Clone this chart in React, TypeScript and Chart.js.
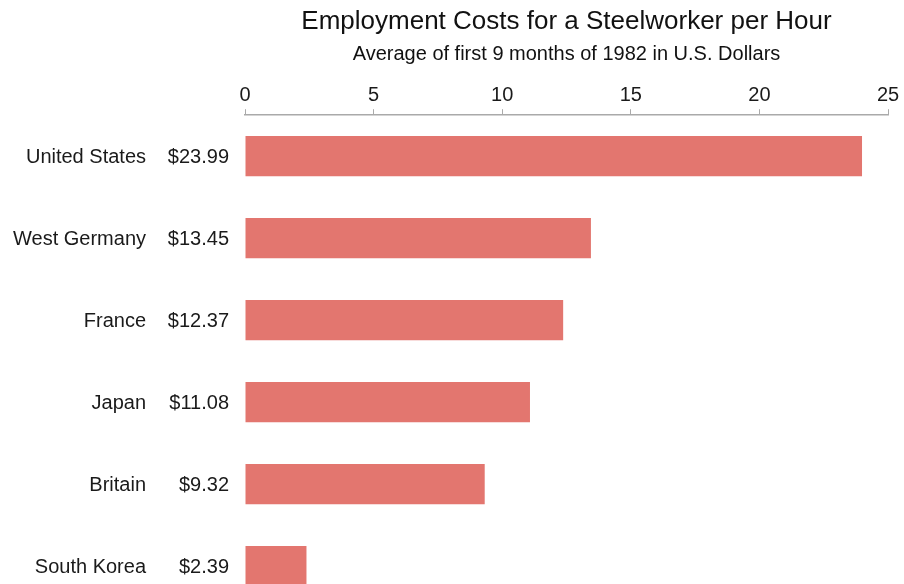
import React, { useEffect, useRef } from "react";
import { Chart, registerables } from "chart.js";

Chart.register(...registerables);

const countries = ["United States", "West Germany", "France", "Japan", "Britain", "South Korea"];
const costs = [23.99, 13.45, 12.37, 11.08, 9.32, 2.39];
const valueLabels = ["$23.99", "$13.45", "$12.37", "$11.08", "$9.32", "$2.39"];
const titleText = "Employment Costs for a Steelworker per Hour";
const subtitleText = "Average of first 9 months of 1982 in U.S. Dollars";

const FONT = "'Liberation Sans', Arial, Helvetica, sans-serif";

const labelPlugin = {
  id: "leftLabels",
  afterDraw(chart: any) {
    const ctx = chart.ctx;
    const y = chart.scales.y;
    ctx.save();
    ctx.font = `20px ${FONT}`;
    ctx.fillStyle = "#1a1a1a";
    ctx.textBaseline = "middle";
    countries.forEach((c, i) => {
      const py = y.getPixelForValue(i);
      ctx.textAlign = "right";
      ctx.fillText(c, 146, py + 1);
      ctx.fillText(valueLabels[i], 229, py + 1);
    });
    ctx.restore();
  },
};

export default function App() {
  const ref = useRef<HTMLCanvasElement>(null);
  useEffect(() => {
    if (!ref.current) return;
    const chart = new Chart(ref.current, {
      type: "bar",
      data: {
        labels: countries,
        datasets: [
          {
            data: costs,
            backgroundColor: "#E3766F",
            borderWidth: 0,
            barPercentage: 0.49,
            categoryPercentage: 1,
          },
        ],
      },
      options: {
        indexAxis: "y",
        animation: false,
        responsive: false,
        maintainAspectRatio: false,
        layout: { padding: { left: 245, right: 16, top: 0, bottom: 3 } },
        plugins: {
          legend: { display: false },
          tooltip: { enabled: false },
          title: {
            display: true,
            text: titleText,
            color: "#111",
            font: { family: FONT, size: 26, weight: "normal" },
            padding: { top: 6, bottom: 2 },
          },
          subtitle: {
            display: true,
            text: subtitleText,
            color: "#111",
            font: { family: FONT, size: 20, weight: "normal" },
            padding: { top: 3, bottom: 15 },
          },
        },
        scales: {
          x: {
            position: "top",
            min: 0,
            max: 25,
            ticks: {
              stepSize: 5,
              color: "#1a1a1a",
              font: { family: FONT, size: 20 },
              padding: 2,
            },
            grid: {
              drawOnChartArea: false,
              drawTicks: true,
              tickLength: 6,
              color: "#aaaaaa",
            },
            border: { display: true, color: "#aaaaaa", width: 1.5 },
          },
          y: {
            display: false,
          },
        },
      },
      plugins: [labelPlugin],
    });
    return () => chart.destroy();
  }, []);
  return (
    <div style={{ position: "fixed", left: 0, top: 0, width: 904, height: 584, overflow: "hidden", background: "#fff" }}>
      <canvas ref={ref} width={904} height={610} style={{ display: "block" }} />
    </div>
  );
}
